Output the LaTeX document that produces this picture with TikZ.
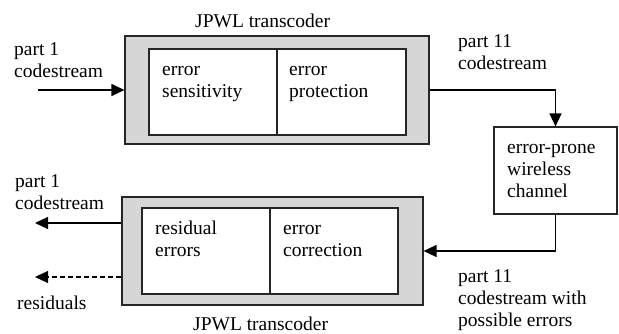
\documentclass[tikz,border=0pt]{standalone}
\usepackage{fontspec}
\setmainfont{Liberation Serif}
\usetikzlibrary{arrows.meta}
\begin{document}
\begin{tikzpicture}[x=1pt,y=-1pt,
  font=\fontsize{19.5}{22}\selectfont,
  outerbox/.style={draw=black!85,line width=1.1pt,fill=black!16,minimum width=#1,minimum height=108pt,inner sep=0pt},
  innerbox/.style={draw=black!85,line width=1.1pt,fill=white,minimum width=#1,minimum height=86pt,inner sep=0pt},
  chanbox/.style={draw=black!85,line width=1.1pt,fill=white,minimum width=123pt,minimum height=87pt,inner sep=0pt},
  lbl/.style={anchor=base west,inner sep=0pt,align=left},
  conn/.style={line width=1.1pt,-{Triangle[length=13pt,width=12pt]}}
]
\useasboundingbox (0,0) rectangle (619,333);
% top transcoder
\node[outerbox=304pt] (topouter) at (277,90) {};
\node[innerbox=128pt] (sens) at (213,92) {};
\node[innerbox=129pt] (prot) at (341.5,92) {};
% channel
\node[chanbox] (chan) at (555.5,170.5) {};
% bottom transcoder
\node[outerbox=301pt] (botouter) at (272.5,251) {};
\node[innerbox=128pt] (resid) at (206,251) {};
\node[innerbox=128pt] (corr) at (334,251) {};

% labels (anchor at baseline of last line)
\node[lbl] (t1) at (195,27) {JPWL transcoder};
\node[lbl] (t2) at (193,330) {JPWL transcoder};
\node[lbl] (inlbl) at (14,77) {part 1\\codestream};
\node[lbl] (sensl) at (162,97) {error\\sensitivity};
\node[lbl] (protl) at (289,97) {error\\protection};
\node[lbl] (p11l) at (458,69) {part 11\\codestream};
\node[lbl] (chanl) at (507,197) {error-prone\\wireless\\channel};
\node[lbl] (outl) at (15,209) {part 1\\codestream};
\node[lbl] (residl) at (155,256) {residual\\errors};
\node[lbl] (corrl) at (283,256) {error\\correction};
\node[lbl] (resl) at (17,309) {residuals};
\node[lbl] (p11e) at (458,326) {part 11\\codestream with\\possible errors};

% connectors
\coordinate (inS) at (38,90);
\coordinate (outS) at (35,223);
\coordinate (resS) at (35,277);
\draw[conn] (inS) -- (topouter.west |- inS);
\draw[conn] (topouter.east) -| (chan.north);
\draw[conn] (chan.south) |- (botouter.east);
\draw[conn] (botouter.west |- outS) -- (outS);
\draw[conn,dash pattern=on 5pt off 3pt] (botouter.west |- resS) -- (resS);
\end{tikzpicture}
\end{document}
